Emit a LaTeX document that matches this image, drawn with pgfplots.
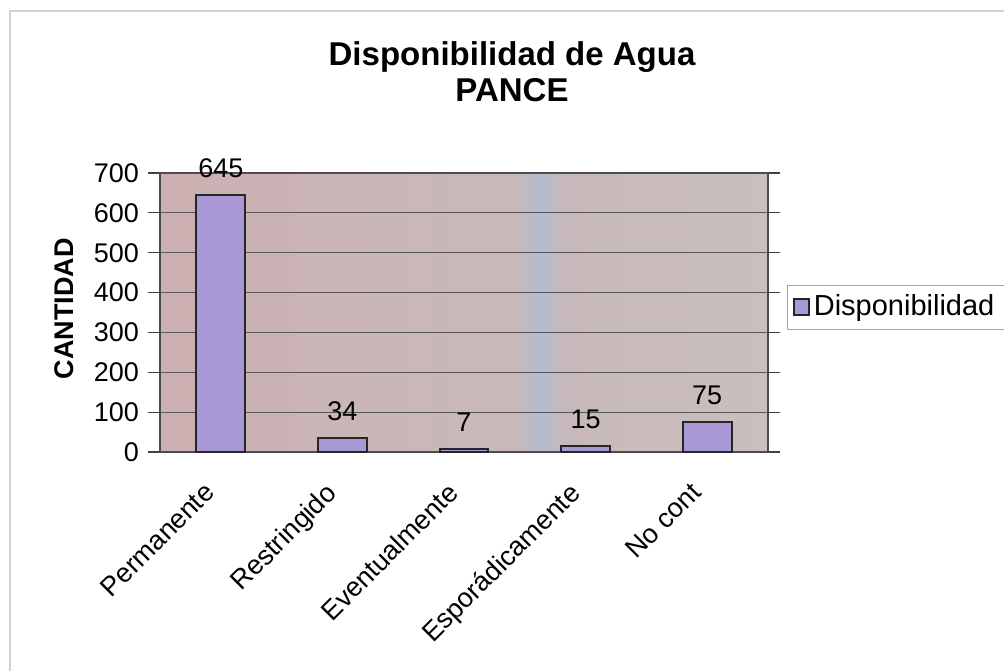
\documentclass[border=0pt]{standalone}
\usepackage{fontspec}
\setmainfont{Liberation Sans}
\usepackage{pgfplots}
\pgfplotsset{compat=1.18}
\definecolor{bgL}{RGB}{205,176,178}
\definecolor{bgM}{RGB}{200,184,186}
\definecolor{bgB}{RGB}{182,188,206}
\definecolor{bgR}{RGB}{202,190,190}
\definecolor{barc}{RGB}{168,152,214}
\pgfdeclarehorizontalshading{bgshade}{100bp}{color(0bp)=(bgL); color(25bp)=(bgL); color(50bp)=(bgM); color(54bp)=(bgM); color(56.25bp)=(bgB); color(58.5bp)=(bgM); color(75bp)=(bgR); color(100bp)=(bgR)}
\begin{document}
\begin{tikzpicture}
\path[use as bounding box] (0,0) rectangle (502pt,-335pt);
\draw[gray!35, line width=1.2pt] (5pt,-340pt) -- (5pt,-5.5pt) -- (510pt,-5.5pt);
\node[font=\fontsize{16.5}{19}\selectfont\bfseries] at (256pt,-28.5pt) {Disponibilidad de Agua};
\node[font=\fontsize{16.5}{19}\selectfont\bfseries] at (256pt,-45pt) {PANCE};
\begin{axis}[
  at={(80pt,-226pt)}, anchor=south west,
  scale only axis, width=304pt, height=139.5pt,
  xmin=-0.5, xmax=4.5, ymin=0, ymax=700,
  ytick={0,100,...,700},
  xtick={0,1,2,3,4},
  xticklabels={Permanente,Restringido,Eventualmente,Esporádicamente,No cont},
  x tick style={draw=none},
  extra x ticks={0.5,1.5,2.5,3.5,4.5},
  extra x tick labels={},
  extra x tick style={tick style={draw=gray!60!black, line width=0.6pt}, major tick length=3pt, tick align=outside, grid=none},
  y tick style={draw=gray!50!black, line width=0.6pt},
  tick align=outside, major tick length=6pt,
  ymajorgrids, grid style={black!65, line width=0.6pt},
  axis line style={gray!60!black, line width=0.6pt},
  axis background/.style={shade, shading=bgshade},
  /pgf/number format/assume math mode=true,
  ticklabel style={font=\fontsize{13.5}{15}\selectfont},
  yticklabel style={xshift=-1pt},
  xticklabel style={xshift=-9pt, yshift=-3.5pt, rotate=45, anchor=north east},
  ylabel={CANTIDAD},
  ylabel style={font=\fontsize{13.5}{15}\selectfont\bfseries, at={(axis description cs:-0.158,0.513)}, anchor=center},
  legend style={at={(axis description cs:1.031,0.52)}, anchor=west, draw=gray!70, fill=white, font=\fontsize{14.5}{16}\selectfont, inner xsep=3pt, inner ysep=3pt},
  legend image code/.code={\draw[#1, line width=0.8pt] (1pt,-4pt) rectangle (8.5pt,4pt);},
  nodes near coords,
  nodes near coords style={font=\fontsize{13.5}{15}\selectfont, anchor=south, yshift=5pt},
]
\addplot[ybar, bar width=0.4, fill=barc, draw=black!85, line width=1pt] coordinates {(0,645) (1,34) (2,7) (3,15) (4,75)};
\addlegendentry{Disponibilidad}
\end{axis}
\end{tikzpicture}
\end{document}
